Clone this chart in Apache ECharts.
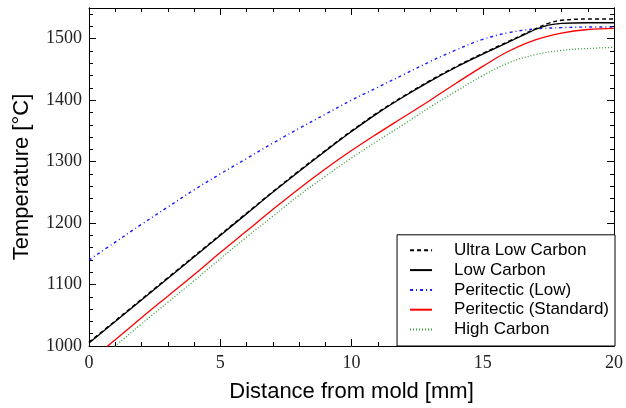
<!DOCTYPE html>
<html>
<head>
<meta charset="utf-8">
<script src="https://cdn.jsdelivr.net/npm/echarts@6/dist/echarts.min.js"></script>
<style>html,body{margin:0;padding:0;background:#fff}#c{width:626px;height:408px}</style>
</head>
<body>
<div id="c"></div>
<script>
// ---- data ----
const seriesNames = ['Ultra Low Carbon', 'Low Carbon', 'Peritectic (Low)', 'Peritectic (Standard)', 'High Carbon'];

const xBlack = [0,1,2,3,4,5,6,7,8,9,10,11,12,13,14,15,16,16.5,17,17.5,18,19,20];
const ultraLow = [1006,1041,1076,1111,1146,1181,1216,1251,1285,1318,1350,1380,1407,1432,1455,1476,1496,1506,1516,1525,1530,1532,1532];
const lowCarbon = [1005,1040,1075,1110,1145,1180,1215,1250,1284,1317,1349,1379,1406,1431,1454,1475,1495,1505,1515,1522,1525,1526,1526];

const xColor = [0,1,2,3,4,5,6,7,8,9,10,11,12,13,14,15,16,17,18,19,20];
const periLow = [1140,1169,1198,1226,1254,1280,1305,1330,1354,1377,1400,1421,1442,1463,1482,1499,1510,1516,1518,1519,1519];
const periStd = [975,1010,1046,1081,1116,1152,1187,1222,1256,1288,1318,1346,1373,1400,1428,1455,1480,1498,1509,1515,1517];
const highCarbon = [965,1000,1036,1071,1106,1142,1177,1211,1245,1276,1306,1334,1361,1389,1415,1440,1461,1474,1481,1484,1486];

const xTickInterval = 5;
const yTickInterval = 100;
const yMinorInterval = 20;

// ---- chart ----
const pairs = (xs, ys) => xs.map((x, i) => [x, ys[i]]);
const chart = echarts.init(document.getElementById('c'), null, {renderer: 'canvas'});

const serifFont = 'Liberation Serif';
const sansFont = 'Liberation Sans';

function xAx(pos, labels) {
  return {
    type: 'value', position: pos, min: 0, max: 20, interval: xTickInterval,
    axisLine: {show: true, onZero: false, lineStyle: {color: '#000', width: 1}},
    axisTick: {show: true, inside: true, length: 7, lineStyle: {color: '#000', width: 1}},
    minorTick: {show: true, splitNumber: 5, length: 4, lineStyle: {color: '#000', width: 1}},
    splitLine: {show: false},
    axisLabel: {show: labels, margin: 8, fontFamily: serifFont, fontSize: 18, color: '#222'},
    name: labels ? 'Distance from mold [mm]' : '',
    nameLocation: 'middle', nameGap: 35,
    nameTextStyle: {fontFamily: sansFont, fontSize: 22, color: '#000'}
  };
}
function yAx(pos, interval, tickLen, labels) {
  return {
    type: 'value', position: pos, min: 1000, max: 1550, interval: interval,
    axisLine: {show: true, onZero: false, lineStyle: {color: '#000', width: 1}},
    axisTick: {show: true, inside: true, length: tickLen, lineStyle: {color: '#000', width: 1}},
    splitLine: {show: false},
    axisLabel: {show: labels, margin: 7, fontFamily: serifFont, fontSize: 18, color: '#222',
      formatter: v => (v % yTickInterval === 0 ? String(v) : '')},
    name: labels ? 'Temperature [°C]' : '',
    nameLocation: 'middle', nameGap: 56,
    nameTextStyle: {fontFamily: sansFont, fontSize: 22, color: '#000'}
  };
}

const lineBase = {type: 'line', symbol: 'none', xAxisIndex: 0, yAxisIndex: 0, smooth: 0.4, clip: true, animation: false};

const option = {
  animation: false,
  backgroundColor: '#fff',
  grid: {left: 89, right: 8, top: 8, bottom: 62, containLabel: false},
  xAxis: [xAx('bottom', true), xAx('top', false)],
  yAxis: [
    yAx('left', yTickInterval, 7, true),
    yAx('left', yMinorInterval, 4, false),
    yAx('right', yTickInterval, 7, false),
    yAx('right', yMinorInterval, 4, false)
  ],
  legend: {
    data: seriesNames,
    orient: 'vertical', right: 11, bottom: 62,
    itemWidth: 22, itemHeight: 10, itemGap: 2.8,
    padding: [7, 6, 8, 12],
    borderColor: '#000', borderWidth: 1, borderRadius: 0,
    backgroundColor: '#fff',
    itemStyle: {opacity: 0, borderWidth: 0},
    textStyle: {fontFamily: sansFont, fontSize: 17, lineHeight: 17, color: '#000', padding: [0, 0, 0, 17]}
  },
  series: [
    Object.assign({}, lineBase, {name: seriesNames[0], data: pairs(xBlack, ultraLow), z: 5,
      lineStyle: {color: '#000', width: 1.5, type: [4, 3]}, itemStyle: {color: '#000'}}),
    Object.assign({}, lineBase, {name: seriesNames[1], data: pairs(xBlack, lowCarbon), z: 4,
      lineStyle: {color: '#000', width: 1.3, type: 'solid'}, itemStyle: {color: '#000'}}),
    Object.assign({}, lineBase, {name: seriesNames[2], data: pairs(xColor, periLow), z: 3,
      lineStyle: {color: '#1a1aff', width: 1.4, type: [3, 3, 1, 3]}, itemStyle: {color: '#1a1aff'}}),
    Object.assign({}, lineBase, {name: seriesNames[3], data: pairs(xColor, periStd), z: 3,
      lineStyle: {color: '#ff0000', width: 1.3, type: 'solid'}, itemStyle: {color: '#ff0000'}}),
    Object.assign({}, lineBase, {name: seriesNames[4], data: pairs(xColor, highCarbon), z: 3,
      lineStyle: {color: '#2e9b2e', width: 1.3, type: [1, 2]}, itemStyle: {color: '#2e9b2e'}})
  ]
};
chart.setOption(option);
</script>
</body>
</html>
